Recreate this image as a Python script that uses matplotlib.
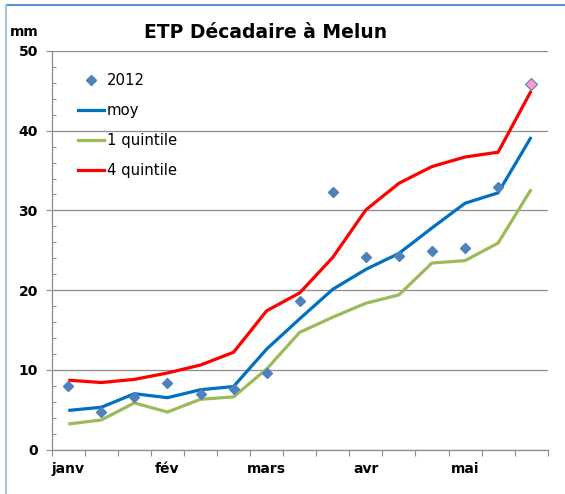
import matplotlib
matplotlib.use("Agg")
import matplotlib.pyplot as plt
from matplotlib.lines import Line2D

# decades (3 per month), janv -> mai
months = ["janv", "fév", "mars", "avr", "mai"]
decades = list(range(1, 16))

obs_2012 = [8.0, 4.7, 6.6, 8.35, 7.0, 7.65, 9.6, 18.6, 32.35, 24.1, 24.3, 24.85, 25.3, 32.9, 45.8]
moy = [4.9, 5.3, 7.0, 6.5, 7.5, 7.9, 12.6, 16.4, 20.1, 22.6, 24.6, 27.8, 30.9, 32.2, 39.2]
quint1 = [3.2, 3.7, 5.85, 4.7, 6.3, 6.6, 10.1, 14.7, 16.6, 18.35, 19.4, 23.4, 23.7, 25.9, 32.65]
quint4 = [8.7, 8.4, 8.8, 9.6, 10.6, 12.2, 17.4, 19.65, 24.1, 30.06, 33.4, 35.5, 36.7, 37.3, 45.0]

W, H = 565, 494
fig = plt.figure(figsize=(W / 100, H / 100), dpi=100)
ax = fig.add_axes([51.7 / W, 1 - 449.5 / H, 496 / W, 398.5 / H])

grey = "#8c8c8c"
blue_pt = "#4f81bd"

ax.plot(decades, moy, color="#0070c0", lw=2.3, solid_capstyle="butt", zorder=3)
ax.plot(decades, quint1, color="#9bbb59", lw=2.3, solid_capstyle="butt", zorder=3)
ax.plot(decades, quint4, color="#ff0000", lw=2.3, solid_capstyle="butt", zorder=3)
ax.plot(decades[:-1], obs_2012[:-1], ls="none", marker="D", ms=5.5,
        color=blue_pt, zorder=4)
# last decade highlighted
ax.plot(decades[-1:], obs_2012[-1:], ls="none", marker="D", ms=6,
        markerfacecolor="#ff99cc", markeredgecolor=blue_pt, mew=0.8, zorder=5)

ax.set_xlim(0.5, 15.5)
ax.set_ylim(0, 50)

# y axis
ax.set_yticks(range(0, 51, 10))
ax.set_yticks(range(0, 51, 2), minor=True)
ax.yaxis.grid(True, which="major", color=grey, lw=0.9)
ax.tick_params(axis="y", which="major", direction="out", length=4, width=0.8,
               color=grey, pad=6, labelsize=10)
ax.tick_params(axis="y", which="minor", direction="in", length=3, width=0.8, color=grey)
for t in ax.get_yticklabels():
    t.set_fontweight("bold")

# x axis : ticks at decade boundaries, month labels every 3 decades
ax.set_xticks([d + 0.5 for d in range(0, 16)])
ax.set_xticklabels([])
ax.set_xticks(decades[::3], minor=True)
ax.set_xticklabels(months, minor=True, fontweight="bold", fontsize=10)
ax.tick_params(axis="x", which="major", direction="out", length=4, width=0.8, color=grey)
ax.tick_params(axis="x", which="minor", length=0, pad=9)

for s in ["top", "right"]:
    ax.spines[s].set_visible(False)
for s in ["left", "bottom"]:
    ax.spines[s].set_color(grey)
    ax.spines[s].set_linewidth(0.9)
ax.set_axisbelow(True)

fig.text(266 / W, 1 - 32 / H, "ETP Décadaire à Melun", ha="center", va="center",
         fontsize=13.5, fontweight="bold")
fig.text(10 / W, 1 - 32 / H, "mm", ha="left", va="center", fontsize=10, fontweight="bold")

handles = [
    Line2D([], [], ls="none", marker="D", ms=5.5, color=blue_pt),
    Line2D([], [], color="#0070c0", lw=2.3),
    Line2D([], [], color="#9bbb59", lw=2.3),
    Line2D([], [], color="#ff0000", lw=2.3),
]
labels = ["2012", "moy", "1 quintile", "4 quintile"]
fig.legend(handles, labels, loc="upper left", bbox_to_anchor=(65 / W, 1 - 60 / H),
           frameon=False, fontsize=10.7, handlelength=1.75, handletextpad=0.15,
           labelspacing=1.0)

# chart area border (only top and left visible in the crop)
fig.add_artist(Line2D([5.5 / W, 1], [1 - 5.5 / H, 1 - 5.5 / H], color="#5b8fd6", lw=1.5))
fig.add_artist(Line2D([5.5 / W, 5.5 / W], [0, 1 - 5.5 / H], color="#a9c3e3", lw=1.5))

fig.savefig("out.png", dpi=100)
